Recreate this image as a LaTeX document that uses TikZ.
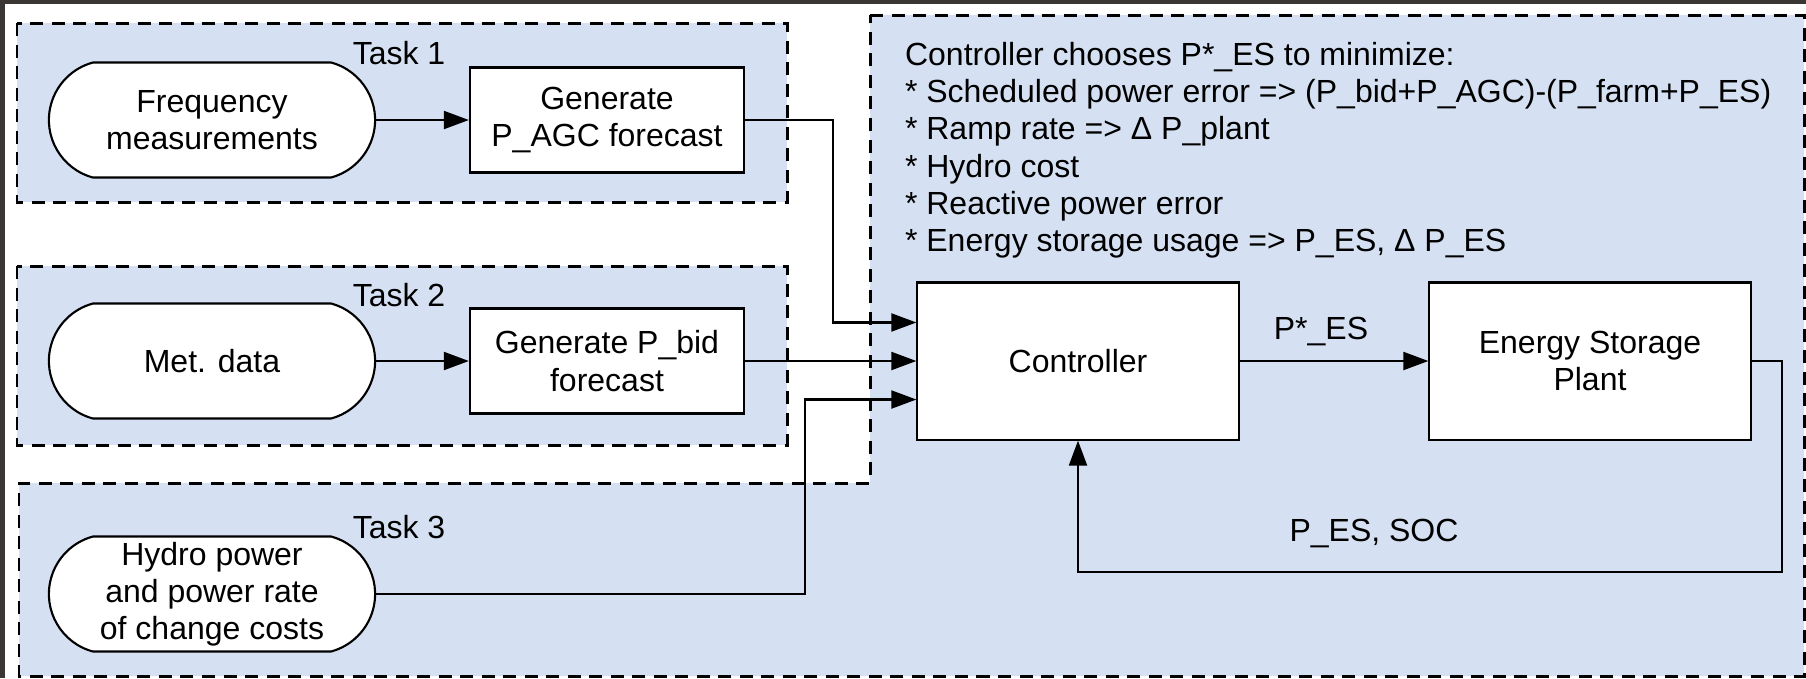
\documentclass[tikz,border=0pt]{standalone}
\usepackage{fontspec}
\setmainfont{Liberation Sans}
\usetikzlibrary{arrows.meta,shapes.misc}
\definecolor{taskblue}{RGB}{213,225,242}
\definecolor{framegray}{RGB}{58,54,51}

\begin{document}
\begin{tikzpicture}[x=0.01cm,y=-0.01cm,>={Triangle[length=0.25cm,width=0.18cm]},
	font=\fontsize{9.1pt}{10.6pt}\selectfont,line width=0.6pt,
	task/.style={draw,fill=taskblue,dash pattern=on 0.13cm off 0.085cm,line width=0.85pt},
	source/.style={draw,fill=white,rounded rectangle,rounded rectangle arc length=150,
		minimum width=3.26cm,minimum height=1.15cm,align=center,inner sep=0pt},
	block/.style={draw,fill=white,rectangle,align=center,inner sep=0pt}]

	\useasboundingbox (0,0) rectangle (1806,678);
	\fill [framegray] (0,0) rectangle (1806,4);
	\fill [framegray] (0,0) rectangle (5,678);

	\draw [task] (17,23) rectangle (787,202);
	\draw [task] (17,266) rectangle (787,445);
	\draw [task] (870,15) -- (1804,15) -- (1804,676) -- (19,676) -- (19,483) -- (870,483) -- cycle;

	\node (t1) at (399,53) {Task 1};
	\node (t2) at (399,295) {Task 2};
	\node (t3) at (399,527) {Task 3};

	\node [source] (freq) at (212,120) {Frequency\\measurements};
	\node [block,minimum width=2.74cm,minimum height=1.05cm] (agc) at (607,120) {Generate\\P\_AGC forecast};
	\node [source] (met) at (212,361) {Met. data};
	\node [block,minimum width=2.74cm,minimum height=1.05cm] (bid) at (607,361) {Generate P\_bid\\forecast};
	\node [source] (hydro) at (212,594) {Hydro power\\and power rate\\of change costs};

	\node [anchor=north west,inner sep=0pt,align=left] (goal) at (904,41)
		{Controller chooses P*\_ES to minimize:\\
		* Scheduled power error => (P\_bid+P\_AGC)-(P\_farm+P\_ES)\\
		* Ramp rate => Δ P\_plant\\
		* Hydro cost\\
		* Reactive power error\\
		* Energy storage usage => P\_ES, Δ P\_ES};

	\node [block,minimum width=3.21cm,minimum height=1.57cm] (ctrl) at (1078,361) {Controller};
	\node [block,minimum width=3.21cm,minimum height=1.57cm] (esp) at (1590,361) {Energy Storage\\Plant};
	\node (pstar) at (1321,331) {P*\_ES};
	\node (soc) at (1374,533) {P\_ES, SOC};
	\coordinate (fbcorner) at (1782,572);

	\draw [->] (freq.east) -- (agc.west);
	\draw [->] (met.east) -- (bid.west);
	\draw [->] (agc.east) -- ++(88,0) |- ([yshift=0.385cm]ctrl.west);
	\draw [->] (bid.east) -- (ctrl.west);
	\draw [->] (hydro.east) -- ++(429,0) |- ([yshift=-0.385cm]ctrl.west);
	\draw [->] (ctrl.east) -- (esp.west);
	\draw [->] (esp.east) -| (fbcorner) -| (ctrl.south);

\end{tikzpicture}
\end{document}
